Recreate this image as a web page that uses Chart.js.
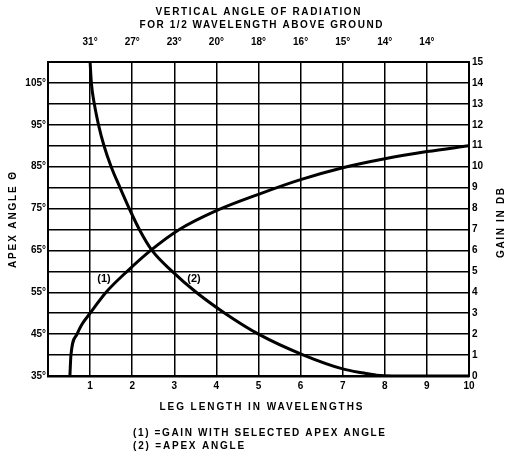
<!DOCTYPE html>
<html>
<head>
<meta charset="utf-8">
<script src="https://cdn.jsdelivr.net/npm/chart.js@4"></script>
<style>
  html, body { margin: 0; padding: 0; background: #fff; }
  canvas { display: block; }
</style>
</head>
<body>
<canvas id="apexChart" width="505" height="455"></canvas>
<script>
// leg length in wavelengths (bottom axis)
const legTicks = [1, 2, 3, 4, 5, 6, 7, 8, 9, 10];
// vertical angle of radiation, top axis, at leg = 1..9
const radiationAngles = ['31°', '27°', '23°', '20°', '18°', '16°', '15°', '14°', '14°'];

// curve (1): gain in dB vs leg length
const gainLeg = [0.52, 0.545, 0.69, 0.8, 1.0, 1.38, 1.88, 2.44, 3.12, 4.0, 5, 6, 7, 8, 9, 10];
const gainDb  = [0, 1, 2, 2.45, 3, 4, 5, 6, 7, 7.9, 8.68, 9.38, 9.95, 10.38, 10.72, 11];

// curve (2): apex angle vs leg length
const apexLeg   = [1.0, 1.03, 1.1, 1.2, 1.33, 1.5, 1.71, 1.93, 2.17, 2.47, 2.95, 3.52, 4.2, 5.0, 6.07, 7.0, 7.5, 7.8, 8.2, 10];
const apexAngle = [110, 105, 100, 95, 90, 85, 80, 75, 70, 65, 60, 55, 50, 45, 40, 36.7, 35.7, 35.2, 35, 35];

const FONT = '"Liberation Sans", Arial, sans-serif';
const tickFont = { family: FONT, size: 10, weight: 'bold' };

// draw text stretched to a given width (old lettering is wide)
function fitText(ctx, text, cx, cy, width) {
    ctx.letterSpacing = '0px';
    const w = ctx.measureText(text).width;
    const sp = (width - w) / Math.max(text.length - 1, 1);
    ctx.letterSpacing = sp + 'px';
    ctx.textAlign = 'left';
    ctx.fillText(text, cx - width / 2, cy);
    ctx.letterSpacing = '0px';
}

const textPlugin = {
    id: 'textPlugin',
    afterDraw(chart) {
        const ctx = chart.ctx;
        ctx.save();
        ctx.fillStyle = '#000';
        ctx.textBaseline = 'middle';
        ctx.font = 'bold 10px ' + FONT;

        fitText(ctx, 'VERTICAL ANGLE OF RADIATION', 258, 12, 205);
        fitText(ctx, 'FOR 1/2 WAVELENGTH ABOVE GROUND', 261, 25, 243);
        fitText(ctx, 'LEG LENGTH IN WAVELENGTHS', 261, 407, 203);
        fitText(ctx, '(1) =GAIN WITH SELECTED APEX ANGLE', 133 + 126, 433, 252);
        const w2 = 252 / 34 * 15;
        fitText(ctx, '(2) =APEX ANGLE', 133 + w2 / 2, 446, w2);

        ctx.font = 'bold 11px ' + FONT;
        ctx.textAlign = 'center';
        ctx.fillText('(1)', 104, 279);
        ctx.fillText('(2)', 194, 279);

        // rotated axis titles
        ctx.font = 'bold 10px ' + FONT;
        ctx.save();
        ctx.translate(13, 220);
        ctx.rotate(-Math.PI / 2);
        fitText(ctx, 'APEX ANGLE Θ', 0, 0, 96);
        ctx.restore();

        ctx.save();
        ctx.translate(501, 223);
        ctx.rotate(-Math.PI / 2);
        fitText(ctx, 'GAIN IN DB', 0, 0, 70);
        ctx.restore();

        ctx.restore();
    }
};

const toPoints = (xs, ys) => xs.map((x, i) => ({ x: x, y: ys[i] }));

new Chart(document.getElementById('apexChart'), {
    type: 'line',
    data: {
        datasets: [{
            label: '(1) Gain',
            data: toPoints(gainLeg, gainDb),
            xAxisID: 'x',
            yAxisID: 'y2',
            borderColor: '#000',
            borderWidth: 3,
            pointRadius: 0,
            cubicInterpolationMode: 'monotone',
            fill: false
        }, {
            label: '(2) Apex angle',
            data: toPoints(apexLeg, apexAngle),
            xAxisID: 'x',
            yAxisID: 'y',
            borderColor: '#000',
            borderWidth: 3,
            pointRadius: 0,
            cubicInterpolationMode: 'monotone',
            fill: false
        }]
    },
    options: {
        responsive: false,
        animation: false,
        layout: { padding: 0 },
        plugins: {
            legend: { display: false },
            tooltip: { enabled: false },
            title: { display: false }
        },
        scales: {
            x: {
                type: 'linear',
                position: 'bottom',
                min: 0,
                max: 10,
                afterFit: s => { s.height = 79; },
                grid: { color: '#000', lineWidth: 1.5, drawTicks: false },
                border: { color: '#000', width: 2.5 },
                ticks: {
                    stepSize: 1,
                    autoSkip: false,
                    maxRotation: 0,
                    padding: 4,
                    color: '#000',
                    font: tickFont,
                    callback: v => legTicks.includes(v) ? String(v) : ''
                }
            },
            x2: {
                type: 'linear',
                position: 'top',
                min: 0,
                max: 10,
                afterFit: s => { s.height = 62; },
                grid: { display: false, drawTicks: false },
                border: { color: '#000', width: 2 },
                ticks: {
                    stepSize: 1,
                    autoSkip: false,
                    maxRotation: 0,
                    padding: 14,
                    color: '#000',
                    font: tickFont,
                    callback: v => (v >= 1 && v <= radiationAngles.length) ? radiationAngles[v - 1] : ''
                }
            },
            y: {
                type: 'linear',
                position: 'left',
                min: 35,
                max: 110,
                afterFit: s => { s.width = 48; },
                grid: { color: '#000', lineWidth: 1.5, drawTicks: false },
                border: { color: '#000', width: 2 },
                ticks: {
                    stepSize: 5,
                    autoSkip: false,
                    padding: 2,
                    color: '#000',
                    font: tickFont,
                    callback: v => (v % 10 === 5) ? v + '°' : ''
                }
            },
            y2: {
                type: 'linear',
                position: 'right',
                min: 0,
                max: 15,
                afterFit: s => { s.width = 36; },
                grid: { display: false, drawTicks: false },
                border: { color: '#000', width: 2 },
                ticks: {
                    stepSize: 1,
                    autoSkip: false,
                    padding: 3,
                    color: '#000',
                    font: tickFont
                }
            }
        }
    },
    plugins: [textPlugin]
});
</script>
</body>
</html>
